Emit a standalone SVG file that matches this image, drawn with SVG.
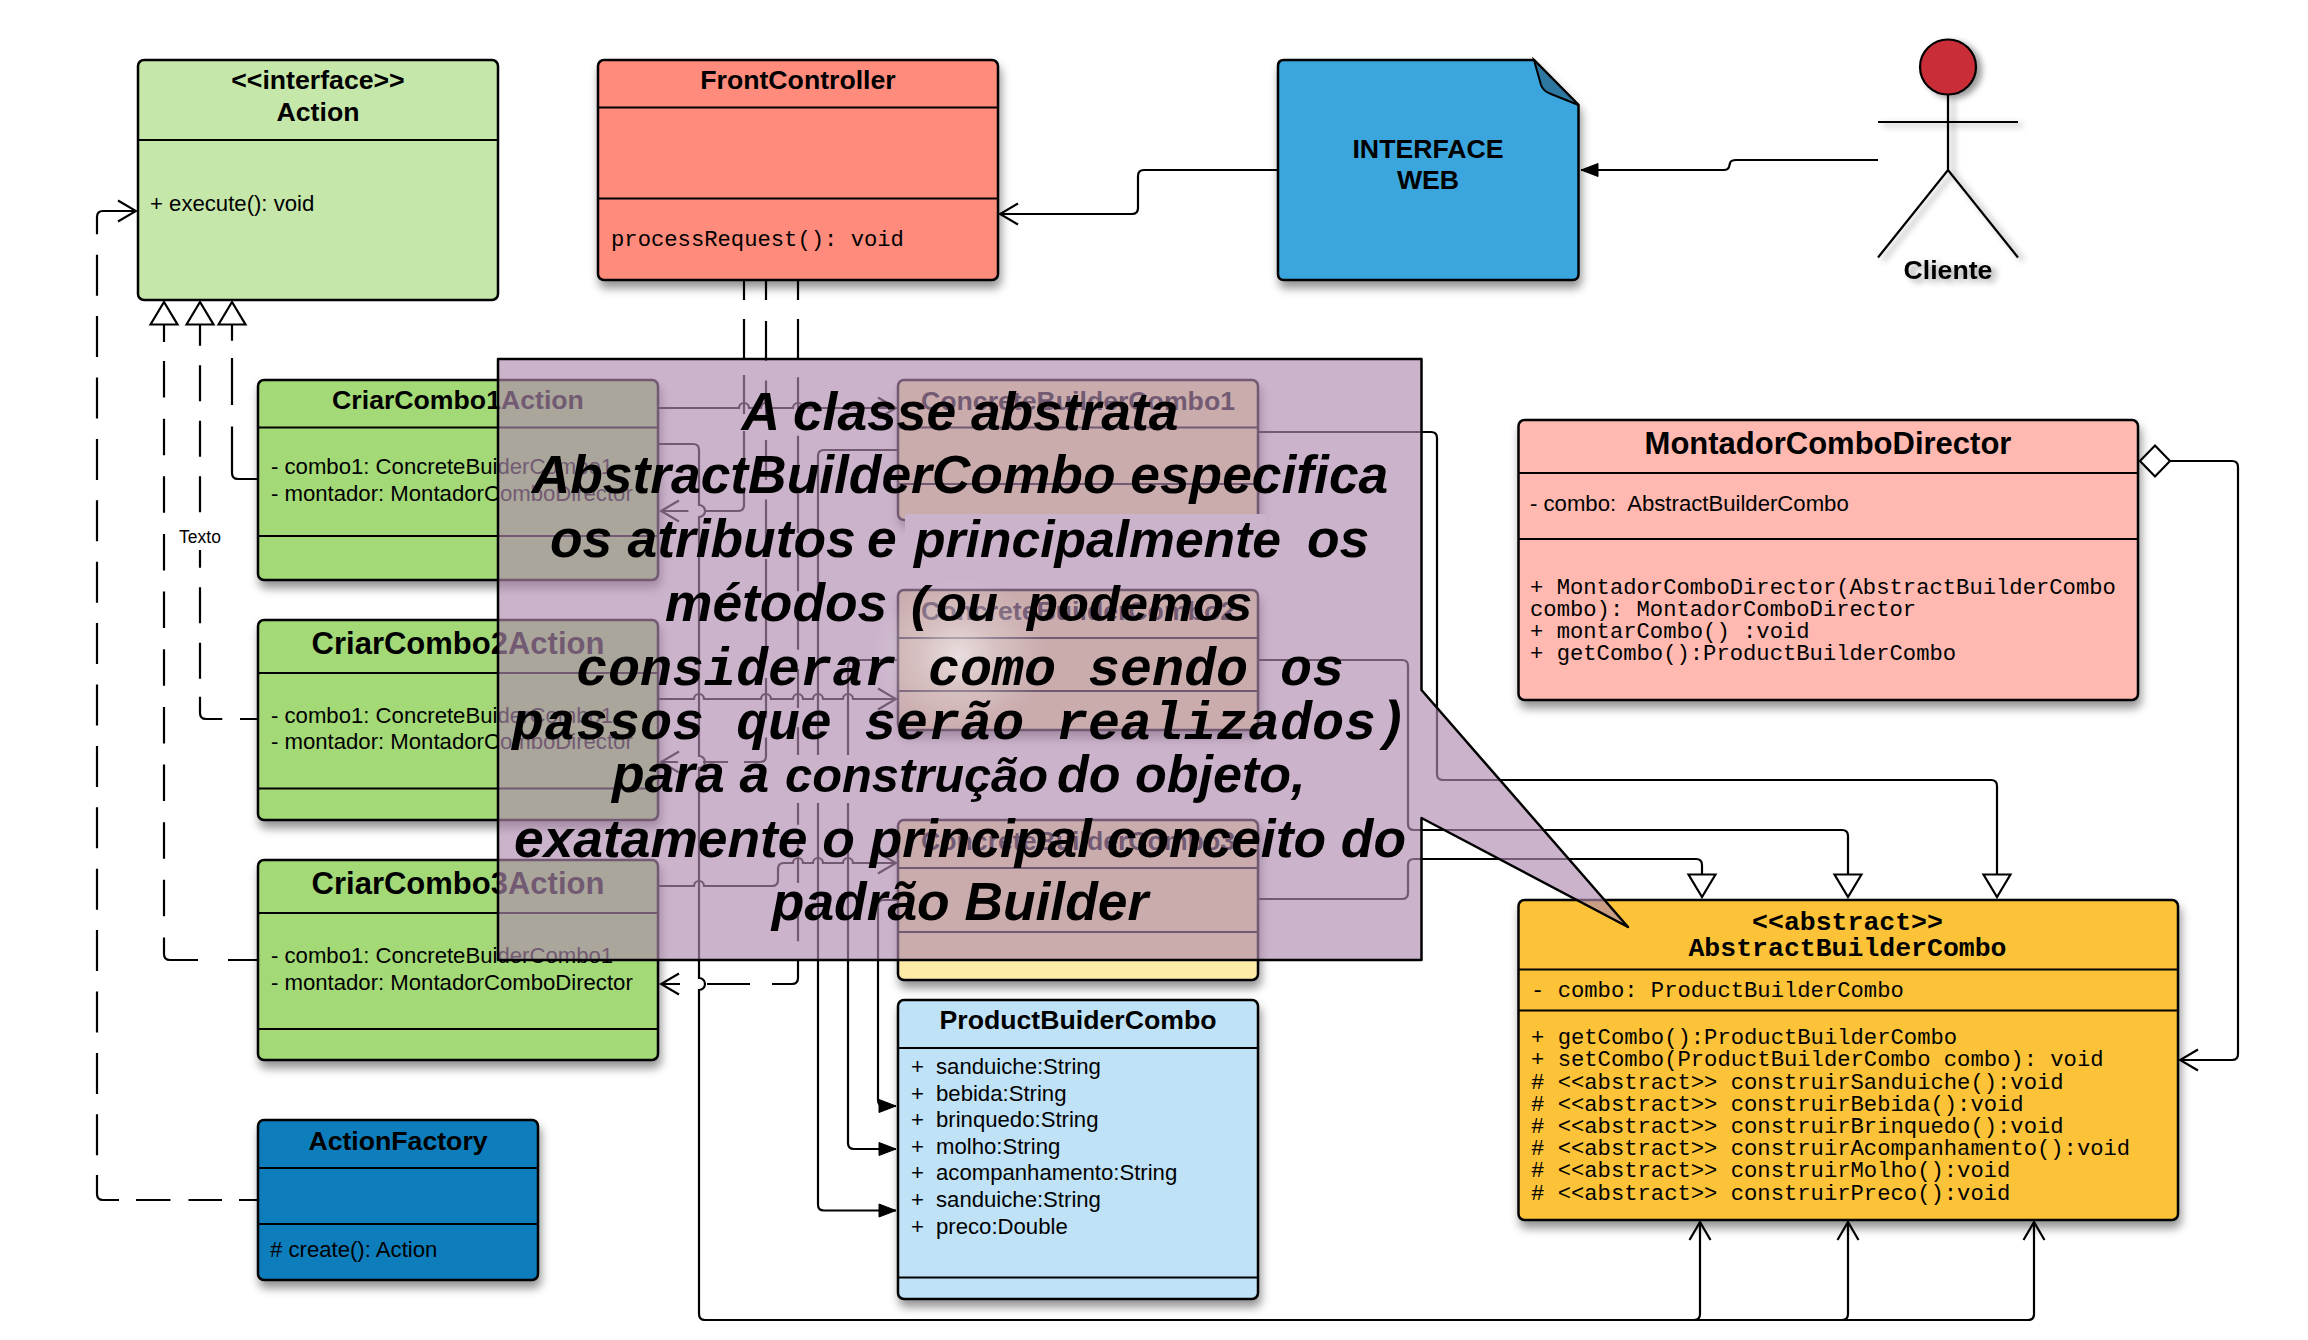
<svg xmlns="http://www.w3.org/2000/svg" width="2308" height="1340" viewBox="0 0 2308 1340">
<style>
text{font-family:"Liberation Sans",Arial,sans-serif;fill:#000}
.t{font-size:26.67px;font-weight:bold;text-anchor:middle}
.t2{font-size:31px;font-weight:bold;text-anchor:middle}
.a{font-size:22.15px}
.m{font-family:"Liberation Mono","Courier New",monospace;font-size:22.2px}
.mt{font-family:"Liberation Mono","Courier New",monospace;font-size:26.5px;font-weight:bold;text-anchor:middle}
.box{stroke:#000;stroke-width:2.5}
.sh{filter:url(#shadow)}
.ln{stroke:#000;stroke-width:2.2;fill:none}
.c{fill:none;stroke:#000;stroke-width:2.2}
.o{marker-end:url(#open)}
.f{marker-end:url(#solid)}
.h{marker-end:url(#hollow)}
.cw{font-size:53.33px;font-weight:bold;font-style:italic}
.cm{font-family:"Liberation Mono","Courier New",monospace;font-size:53.33px;font-weight:bold;font-style:italic;text-anchor:middle}
</style>
<defs>
<filter id="shadow" x="-10%" y="-10%" width="125%" height="125%"><feDropShadow dx="2" dy="7" stdDeviation="5" flood-color="#000" flood-opacity=".42"/></filter>
<filter id="actorsh" x="-20%" y="-20%" width="140%" height="140%"><feDropShadow dx="5" dy="3" stdDeviation="3" flood-color="#000" flood-opacity=".4"/></filter>
<radialGradient id="glow"><stop offset="0" stop-color="#fff" stop-opacity=".6"/><stop offset=".45" stop-color="#fff" stop-opacity=".25"/><stop offset="1" stop-color="#fff" stop-opacity="0"/></radialGradient>
<marker id="open" markerUnits="userSpaceOnUse" viewBox="-22 -13 24 26" refX="0" refY="0" markerWidth="24" markerHeight="26" orient="auto"><path d="M-18,-10.5 L0,0 L-18,10.5" fill="none" stroke="#000" stroke-width="2.2"/></marker>
<marker id="solid" markerUnits="userSpaceOnUse" viewBox="-20 -9 22 18" refX="0" refY="0" markerWidth="22" markerHeight="18" orient="auto"><path d="M-17,-6.5 L0,0 L-17,6.5Z" fill="#000" stroke="#000" stroke-width="1"/></marker>
<marker id="hollow" markerUnits="userSpaceOnUse" viewBox="-26 -17 28 34" refX="0" refY="0" markerWidth="28" markerHeight="34" orient="auto"><path d="M-22.5,-13.5 L0,0 L-22.5,13.5Z" fill="#fff" stroke="#000" stroke-width="2.2"/></marker>
<marker id="diamond" markerUnits="userSpaceOnUse" viewBox="-33 -18 35 36" refX="0" refY="0" markerWidth="35" markerHeight="36" orient="auto"><path d="M0,0 L-15,-15.5 L-30,0 L-15,15.5Z" fill="#fff" stroke="#000" stroke-width="2.2"/></marker>
</defs>
<rect width="2308" height="1340" fill="#fff"/>

<g id="action">
<rect class="box" x="138" y="60" width="360" height="240" rx="6" fill="#c5e7a9"/>
<path class="ln" d="M138,140H498"/>
<text class="t" x="318" y="88.500">&lt;&lt;interface&gt;&gt;</text>
<text class="t" x="318" y="120.500">Action</text>
<text class="a" x="150" y="211">+ execute(): void</text>
</g>
<g id="frontcontroller">
<rect class="box sh" x="598" y="60" width="400" height="220" rx="6" fill="#ff8b7c"/>
<path class="ln" d="M598,107.5H998M598,198.5H998"/>
<text class="t" x="798" y="89">FrontController</text>
<text class="m" x="611" y="246">processRequest(): void</text>
</g>
<g id="interfaceweb">
<path class="box sh" d="M1284,60H1534L1578.500,105V274Q1578.500,280 1572.500,280H1284Q1278,280 1278,274V66Q1278,60 1284,60Z" fill="#3aa6dd"/>
<path d="M1534,60L1578.500,105L1551,94Q1543,91 1541,85Z" fill="#2e77a0" stroke="#000" stroke-width="2"/>
<text class="t" x="1428" y="157.500">INTERFACE</text>
<text class="t" x="1428" y="188.500">WEB</text>
</g>
<g id="cliente">
<g style="filter:url(#actorsh)">
<path class="ln" d="M1948,94V170M1878,122H2018M1878,257.500L1948,170L2018,257.500"/>
<ellipse cx="1948" cy="67" rx="28" ry="27.500" fill="#c92d39" stroke="#000" stroke-width="2.2"/>
<text class="t" x="1948" y="279">Cliente</text>
</g>
</g>
<g id="criarcombo1">
<rect class="box sh" x="258" y="380" width="400" height="200" rx="6" fill="#a4d977"/>
<path class="ln" d="M258,427.500H658M258,536H658"/>
<text class="t" x="458" y="409">CriarCombo1Action</text>
<text class="a" x="271" y="474">- combo1: ConcreteBuiderCombo1</text>
<text class="a" x="271" y="501">- montador: MontadorComboDirector</text>
</g>
<g id="criarcombo2">
<rect class="box sh" x="258" y="620" width="400" height="200" rx="6" fill="#a4d977"/>
<path class="ln" d="M258,673H658M258,788.500H658"/>
<text class="t2" x="458" y="654">CriarCombo2Action</text>
<text class="a" x="271" y="722.500">- combo1: ConcreteBuiderCombo1</text>
<text class="a" x="271" y="749">- montador: MontadorComboDirector</text>
</g>
<g id="criarcombo3">
<rect class="box sh" x="258" y="860" width="400" height="200" rx="6" fill="#a4d977"/>
<path class="ln" d="M258,913H658M258,1029H658"/>
<text class="t2" x="458" y="894">CriarCombo3Action</text>
<text class="a" x="271" y="963">- combo1: ConcreteBuiderCombo1</text>
<text class="a" x="271" y="989.500">- montador: MontadorComboDirector</text>
</g>
<g id="actionfactory">
<rect class="box sh" x="258" y="1120" width="280" height="160" rx="6" fill="#0d7dbc"/>
<path class="ln" d="M258,1168H538M258,1224H538"/>
<text class="t" x="398" y="1150">ActionFactory</text>
<text class="a" x="270" y="1256.500">&#35; create(): Action</text>
</g>
<g id="concrete1">
<rect class="box sh" x="898" y="380" width="360" height="140" rx="6" fill="#ffeba8"/>
<path class="ln" d="M898,427.500H1258M898,484H1258"/>
<text class="t" x="1078" y="409.500">ConcreteBuilderCombo1</text>
</g>
<g id="concrete2">
<rect class="box sh" x="898" y="590" width="360" height="140" rx="6" fill="#ffeba8"/>
<path class="ln" d="M898,638H1258M898,691H1258"/>
<text class="t" x="1078" y="619.500">ConcreteBuilderCombo2</text>
</g>
<g id="concrete3">
<rect class="box sh" x="898" y="820" width="360" height="160" rx="6" fill="#ffeba8"/>
<path class="ln" d="M898,868H1258M898,932H1258"/>
<text class="t" x="1078" y="850">ConcreteBuilderCombo3</text>
</g>
<g id="product">
<rect class="box sh" x="898" y="1000" width="360" height="299" rx="6" fill="#bfe2f7"/>
<path class="ln" d="M898,1048H1258M898,1277.500H1258"/>
<text class="t" x="1078" y="1029">ProductBuiderCombo</text>
<text class="a"><tspan x="911" y="1074">+</tspan><tspan x="936" y="1074">sanduiche:String</tspan><tspan x="911" y="1100.500">+</tspan><tspan x="936" y="1100.500">bebida:String</tspan><tspan x="911" y="1127">+</tspan><tspan x="936" y="1127">brinquedo:String</tspan><tspan x="911" y="1153.500">+</tspan><tspan x="936" y="1153.500">molho:String</tspan><tspan x="911" y="1180">+</tspan><tspan x="936" y="1180">acompanhamento:String</tspan><tspan x="911" y="1206.500">+</tspan><tspan x="936" y="1206.500">sanduiche:String</tspan><tspan x="911" y="1233.500">+</tspan><tspan x="936" y="1233.500">preco:Double</tspan></text>
</g>
<g id="montador">
<rect class="box sh" x="1518.500" y="420" width="619.500" height="280" rx="6" fill="#ffb9b0"/>
<path class="ln" d="M1518.500,473H2138M1518.500,539H2138"/>
<text class="t2" x="1828" y="454">MontadorComboDirector</text>
<text class="a" x="1530" y="511" xml:space="preserve">- combo:  AbstractBuilderCombo</text>
<text class="m" x="1530" y="593.500">+ MontadorComboDirector(AbstractBuilderCombo</text>
<text class="m" x="1530" y="615.500">combo): MontadorComboDirector</text>
<text class="m" x="1530" y="637.500">+ montarCombo() :void</text>
<text class="m" x="1530" y="659.500">+ getCombo():ProductBuilderCombo</text>
</g>
<g id="abstract">
<rect class="box sh" x="1518.500" y="900" width="659.500" height="320" rx="6" fill="#fcc337"/>
<path class="ln" d="M1518.500,969.500H2178M1518.500,1010.500H2178"/>
<text class="mt" x="1847.500" y="929.500">&lt;&lt;abstract&gt;&gt;</text>
<text class="mt" x="1847.500" y="956">AbstractBuilderCombo</text>
<text class="m" x="1531" y="996.500">- combo: ProductBuilderCombo</text>
<text class="m" x="1531" y="1044">+ getCombo():ProductBuilderCombo</text>
<text class="m" x="1531" y="1066.300">+ setCombo(ProductBuilderCombo combo): void</text>
<text class="m" x="1531" y="1088.500">&#35; &lt;&lt;abstract&gt;&gt; construirSanduiche():void</text>
<text class="m" x="1531" y="1110.700">&#35; &lt;&lt;abstract&gt;&gt; construirBebida():void</text>
<text class="m" x="1531" y="1132.900">&#35; &lt;&lt;abstract&gt;&gt; construirBrinquedo():void</text>
<text class="m" x="1531" y="1155.100">&#35; &lt;&lt;abstract&gt;&gt; construirAcompanhamento():void</text>
<text class="m" x="1531" y="1177.300">&#35; &lt;&lt;abstract&gt;&gt; construirMolho():void</text>
<text class="m" x="1531" y="1199.500">&#35; &lt;&lt;abstract&gt;&gt; construirPreco():void</text>
</g>

<g id="connectors">
<path class="c f" d="M1878,160H1736Q1731,160 1730,163L1729,167Q1728,170 1724,170H1581"/>
<path class="c o" d="M1278,170H1144Q1138,170 1138,176V208Q1138,214 1132,214H1000"/>
<path class="c o" stroke-dasharray="20 19 39 17 39 17 39 17 61 16 40" d="M744,280V505Q744,511 738,511H661"/>
<path class="c o" stroke-dasharray="20 21 40 19.5 40 19.5 40 19.5 40 19.5 40 19.5 40 19.5 40 19.5 44 16 25 25 20" d="M766,280V756Q766,762 760,762H661"/>
<path class="c o" stroke-dasharray="20 19 39 19.33 39 19.33 39 19.33 39 19.33 39 19.33 39 19.33 39 19.33 39 19.33 39 19.33 39 19.33 39 19.33 46.8 22 43 27 20" d="M798,280V978Q798,984 792,984H661"/>
<path class="c o" d="M658,408H739a5,5 0 0 1 10,0H761a5,5 0 0 1 10,0H793a5,5 0 0 1 10,0H896"/>
<path class="c o" d="M658,444H693Q699,444 699,450V505a6,6 0 0 1 0,12V756a6,6 0 0 1 0,12V978a6,6 0 0 1 0,12V1314Q699,1320 705,1320H1694Q1700,1320 1700,1314V1222"/>
<path class="c o" d="M1690,1320H1842Q1848,1320 1848,1314V1222"/>
<path class="c o" d="M1840,1320H2028Q2034,1320 2034,1314V1222"/>
<path class="c o" d="M658,699H694a5,5 0 0 1 10,0H761a5,5 0 0 1 10,0H793a5,5 0 0 1 10,0H813a5,5 0 0 1 10,0H843a5,5 0 0 1 10,0H896"/>
<path class="c o" d="M658,886H694a5,5 0 0 1 10,0H772Q778,886 778,880V869Q778,863 784,863H793a5,5 0 0 1 10,0H813a5,5 0 0 1 10,0H843a5,5 0 0 1 10,0H896"/>
<path class="c f" d="M898,450H824Q818,450 818,456V1204.500Q818,1210.500 824,1210.500H896"/>
<path class="c f" d="M898,660H854Q848,660 848,666V1143Q848,1149 854,1149H896"/>
<path class="c f" d="M898,900H884Q878,900 878,906V1100Q878,1106 884,1106H896"/>
<path class="c h" d="M1258,432H1431Q1437,432 1437,438V774Q1437,780 1443,780H1991Q1997,780 1997,786V897"/>
<path class="c h" d="M1258,660H1402Q1408,660 1408,666V824Q1408,830 1414,830H1842Q1848,830 1848,836V897"/>
<path class="c h" d="M1258,899H1402Q1408,899 1408,893V865Q1408,859 1414,859H1696Q1702,859 1702,865V897"/>
<path class="c o" style="marker-start:url(#diamond)" d="M2170,461H2232Q2238,461 2238,467V1054Q2238,1060 2232,1060H2180"/>
<path class="c o" stroke-dasharray="19 17 33.5 18 34.5 17 44.4 19.8 41 20.4 41 20.4 41 20.4 41 20.4 41 20.4 41 20.4 41 20.4 41 20.4 41 20.4 41 20.4 41 20.4 41 20.4 41 20.4 41 20.4 41 20.4 100" d="M258,1200H103Q97,1200 97,1194V217Q97,211 103,211H136"/>
<path class="c h" stroke-dasharray="76 21.4 47 17.4 100" d="M258,479H238Q232,479 232,473V302"/>
<path class="c h" stroke-dasharray="18 17.7 42 18 36 19.5 36 19.5 36 19.5 36 19.5 36 19.5 36 19.5 100" d="M258,719H206Q200,719 200,713V302"/>
<path class="c h" stroke-dasharray="30 30 54 21.15 36.5 21.15 36.5 21.15 36.5 21.15 36.5 21.15 36.5 21.15 36.5 21.15 36.5 21.15 36.5 21.15 36.5 21.15 36.5 18.9 100" d="M258,960H170Q164,960 164,954V302"/>
<rect x="179" y="523" width="42" height="27" fill="#fff"/>
<text x="200" y="542.500" style="font-size:17.500px;text-anchor:middle">Texto</text>
</g>

<g id="callout">
<path d="M498,359H1421.500V690L1628,927L1421.500,818V960H498Z" fill="#ae8aaf" fill-opacity=".65" stroke="#000" stroke-width="2.5" stroke-linejoin="round"/>
<ellipse cx="958" cy="655" rx="88" ry="78" fill="url(#glow)"/>
<rect x="905" y="514" width="361" height="64" fill="#cbb3cb"/>
<rect x="783" y="755" width="269" height="48" fill="#cbb3cb"/>
<text class="cw" x="960" y="430" text-anchor="middle">A classe abstrata</text>
<text class="cw" x="960" y="493" text-anchor="middle">AbstractBuilderCombo especifica</text>
<text class="cw"><tspan x="550" y="557">os</tspan><tspan x="627.500" y="557">atributos</tspan><tspan x="867" y="557">e</tspan><tspan x="914" y="557" style="font-size:51.6px">principalmente</tspan><tspan x="1307" y="557">os</tspan></text>
<text class="cw"><tspan x="665" y="621">métodos</tspan><tspan x="911" y="621" style="font-size:50.67px">(</tspan><tspan x="936" y="621" style="font-size:50.67px">ou</tspan><tspan x="1027" y="621" style="font-size:50.67px">podemos</tspan></text>
<text class="cm" x="960" y="685">considerar como sendo os</text>
<text class="cm" x="960" y="739">passos que serão realizados)</text>
<text class="cw"><tspan x="612" y="792">para a</tspan><tspan x="785" y="792" style="font-size:48.8px">construção</tspan><tspan x="1057" y="792" style="font-size:52px">do objeto,</tspan></text>
<text class="cw" x="960" y="857" text-anchor="middle">exatamente o principal conceito do</text>
<text class="cw" x="960" y="920" text-anchor="middle">padrão Builder</text>
</g>
</svg>
